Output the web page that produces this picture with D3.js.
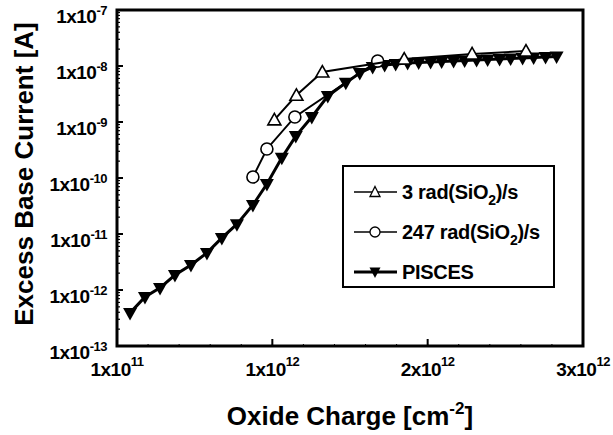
<!DOCTYPE html>
<html><head><meta charset="utf-8">
<script src="https://cdn.jsdelivr.net/npm/d3@7"></script>
<style>
html,body{margin:0;padding:0;background:#fff;}
text{font-family:"Liberation Sans",Arial,sans-serif;font-weight:bold;fill:#000;}
</style></head>
<body><svg id="c" width="613" height="435"></svg>
<script>
// ---- data (oxide charge in units of 1e12 cm^-2, current in A) ----
const piscesX = [0.084,0.18,0.277,0.373,0.476,0.579,0.675,0.772,0.875,0.965,1.061,1.151,1.254,1.357,1.473,1.563,1.646,1.723,1.794,1.871,1.942,2.019,2.09,2.167,2.238,2.315,2.386,2.463,2.534,2.611,2.682,2.759,2.83];
const piscesY = [3.9e-13,7.5e-13,1.09e-12,1.85e-12,2.8e-12,4.6e-12,8.5e-12,1.5e-11,3.3e-11,7.8e-11,2.3e-10,5.6e-10,1.23e-9,2.9e-9,5.0e-9,7.5e-9,9.6e-9,1.04e-8,1.09e-8,1.13e-8,1.15e-8,1.18e-8,1.2e-8,1.23e-8,1.25e-8,1.28e-8,1.31e-8,1.33e-8,1.36e-8,1.39e-8,1.42e-8,1.45e-8,1.48e-8];
const rad3X = [1.013,1.155,1.322,1.849,2.286,2.633];
const rad3Y = [1.09e-9,3.0e-9,7.8e-9,1.33e-8,1.64e-8,1.85e-8];
const rad247X = [0.875,0.965,1.145,1.678];
const rad247Y = [1.04e-10,3.3e-10,1.23e-9,1.23e-8];
const xTickVals = [0,1,2,3];
const xTickLabels = [["1x10","11"],["1x10","12"],["2x10","12"],["3x10","12"]];
const yTickExps = [-7,-8,-9,-10,-11,-12,-13];
const legendLabels = [["3 rad(SiO","2",")/s"],["247 rad(SiO","2",")/s"],["PISCES","",""]];

const svg = d3.select("#c");
const L=117, R=583, T=10, B=346;
const x = d3.scaleLinear().domain([0,3]).range([L,R]);
const y = d3.scaleLog().domain([1e-13,1e-7]).range([B,T]);

// minor/major ticks on y axis (inside)
const g = svg.append("g");
for (let e=-13;e<-7;e++){
  for (let m=2;m<=9;m++){
    const v=m*Math.pow(10,e);
    g.append("line").attr("x1",L).attr("x2",L+3).attr("y1",y(v)).attr("y2",y(v)).attr("stroke","#000").attr("stroke-width",1.2);
  }
}
yTickExps.forEach(e=>{
  const v=Math.pow(10,e);
  g.append("line").attr("x1",L).attr("x2",L+6).attr("y1",y(v)).attr("y2",y(v)).attr("stroke","#000").attr("stroke-width",2);
  const t=g.append("text").attr("x",107).attr("y",y(v)+13).attr("text-anchor","end").style("font-size","19px").style("letter-spacing","-0.5px");
  t.append("tspan").text("1x10");
  t.append("tspan").attr("dy",-8).style("font-size","13px").text(String(e));
});
// x ticks
d3.range(0.2,3,0.2).forEach(v=>{
  g.append("line").attr("x1",x(v)).attr("x2",x(v)).attr("y1",B).attr("y2",B-2).attr("stroke","#000").attr("stroke-width",1);
});
xTickVals.forEach((v,i)=>{
  g.append("line").attr("x1",x(v)).attr("x2",x(v)).attr("y1",B).attr("y2",B-7).attr("stroke","#000").attr("stroke-width",2);
  const t=g.append("text").attr("x",x(v)).attr("y",376).attr("text-anchor","middle").style("font-size","19px").style("letter-spacing","-0.5px");
  t.append("tspan").text(xTickLabels[i][0]);
  t.append("tspan").attr("dy",-10).style("font-size","13px").text(xTickLabels[i][1]);
});
// frame
svg.append("rect").attr("x",L).attr("y",T).attr("width",R-L).attr("height",B-T)
  .attr("fill","none").attr("stroke","#000").attr("stroke-width",3);

// axis titles
const xt=svg.append("text").attr("x",350).attr("y",425).attr("text-anchor","middle").style("font-size","26px");
xt.append("tspan").text("Oxide Charge [cm");
xt.append("tspan").attr("dy",-11).style("font-size","17px").text("-2");
xt.append("tspan").attr("dy",11).text("]");
svg.append("text").attr("transform","translate(33,174) rotate(-90)").attr("text-anchor","middle")
  .style("font-size","26px").text("Excess Base Current [A]");

// series
const line = d3.line().x(d=>x(d[0])).y(d=>y(d[1]));
const pis = piscesX.map((v,i)=>[v,piscesY[i]]);
const r3 = rad3X.map((v,i)=>[v,rad3Y[i]]);
const r247 = rad247X.map((v,i)=>[v,rad247Y[i]]);
const down = "M-7,-5L7,-5L0,7.5Z";
const up = "M0,-6.5L6.5,5L-6.5,5Z";

svg.append("path").datum(pis).attr("d",line).attr("fill","none").attr("stroke","#000").attr("stroke-width",3);
svg.selectAll(".pm").data(pis).enter().append("path").attr("d",down)
  .attr("transform",d=>`translate(${x(d[0])},${y(d[1])})`).attr("fill","#000");

svg.append("path").datum(r247).attr("d",line).attr("fill","none").attr("stroke","#000").attr("stroke-width",2);
svg.selectAll(".cm").data(r247).enter().append("circle").attr("cx",d=>x(d[0])).attr("cy",d=>y(d[1])).attr("r",6)
  .attr("fill","#fff").attr("stroke","#000").attr("stroke-width",1.6);

svg.append("path").datum(r3).attr("d",line).attr("fill","none").attr("stroke","#000").attr("stroke-width",2);
svg.selectAll(".tm").data(r3).enter().append("path").attr("d",up)
  .attr("transform",d=>`translate(${x(d[0])},${y(d[1])})`).attr("fill","#fff").attr("stroke","#000").attr("stroke-width",1.6);

// legend
const lg = svg.append("g");
lg.append("rect").attr("x",343).attr("y",166).attr("width",211).attr("height",121).attr("fill","#fff").attr("stroke","#000").attr("stroke-width",2);
const rows=[192,232,272];
rows.forEach((ry,i)=>{
  lg.append("line").attr("x1",354).attr("x2",397).attr("y1",ry).attr("y2",ry).attr("stroke","#000").attr("stroke-width",i==2?3:1.5);
  if(i==0) lg.append("path").attr("d","M0,-5.5L5,4.5L-5,4.5Z").attr("transform",`translate(375,${ry})`).attr("fill","#fff").attr("stroke","#000").attr("stroke-width",1.3);
  if(i==1) lg.append("circle").attr("cx",375).attr("cy",ry).attr("r",5).attr("fill","#fff").attr("stroke","#000").attr("stroke-width",1.3);
  if(i==2) lg.append("path").attr("d","M-5.5,-4.5L5.5,-4.5L0,6Z").attr("transform",`translate(375,${ry})`).attr("fill","#000");
  const t=lg.append("text").attr("x",402).attr("y",ry+7).style("font-size","20px").style("letter-spacing","-0.3px");
  t.append("tspan").text(legendLabels[i][0]);
  if(legendLabels[i][1]){
    t.append("tspan").attr("dy",6).style("font-size","14px").text(legendLabels[i][1]);
    t.append("tspan").attr("dy",-6).text(legendLabels[i][2]);
  }
});
</script></body></html>
